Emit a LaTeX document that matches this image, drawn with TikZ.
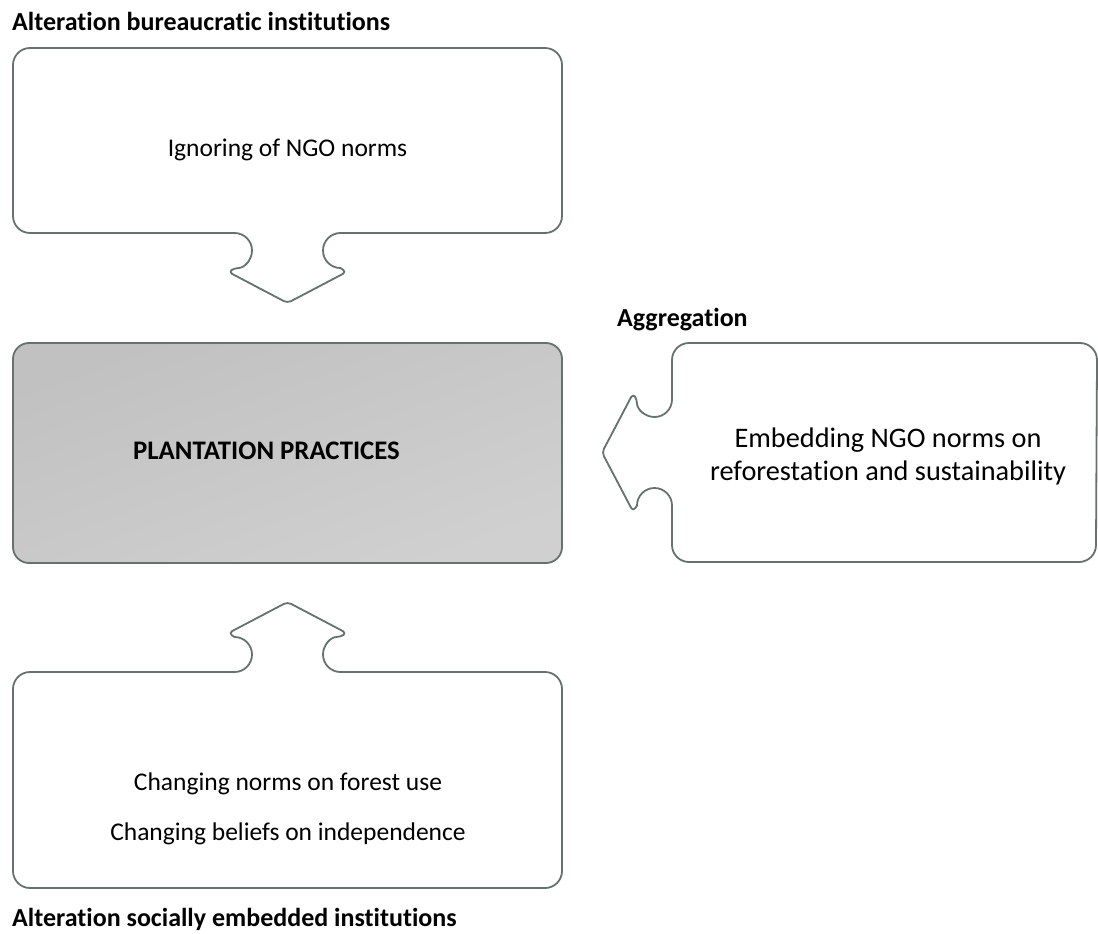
\documentclass[tikz,border=0pt]{standalone}
\usepackage{tikz}
\usepackage{fontspec}
\setmainfont{Carlito}[Ligatures=NoCommon]
\definecolor{edgec}{RGB}{102,114,108}
\definecolor{fillA}{RGB}{193,193,193}
\definecolor{fillB}{RGB}{208,208,208}
\begin{document}
\begin{tikzpicture}[x=1pt,y=-1pt,
  callout/.style={draw=edgec,line width=1.8pt,line join=round,fill=white},
  body/.style={font=\fontsize{25.5}{31}\selectfont,inner sep=0pt,align=center},
  bigbody/.style={font=\fontsize{28.3}{33}\selectfont,inner sep=0pt,align=center},
  head/.style={font=\fontsize{26}{31}\selectfont\bfseries,inner sep=0pt},
  title/.style={font=\fontsize{26.8}{32}\selectfont\bfseries,inner sep=0pt}]
\useasboundingbox (0,0) rectangle (1098,934);

% upper callout, arrow pointing down
\draw[callout] (13,65) arc[start angle=180,end angle=270,radius=17]
  -- (545,48) arc[start angle=270,end angle=360,radius=17]
  -- (562,216) arc[start angle=0,end angle=90,radius=17]
  -- (340.5,233) arc[start angle=270,end angle=90,radius=17.5]
  [rounded corners=4] -- (346.5,272) -- (287.5,303) -- (228.5,272) -- (234.5,268) [sharp corners]
  arc[start angle=90,end angle=-90,radius=17.5]
  -- (30,233) arc[start angle=90,end angle=180,radius=17] -- cycle;

% central box
\shade[top color=fillA,bottom color=fillB,shading angle=20,draw=edgec,line width=1.8pt,rounded corners=16]
  (13,343) rectangle (562,563);

% right callout, arrow pointing left
\draw[callout] (689,343) -- (1080,343) arc[start angle=270,end angle=360,radius=17]
  -- (1096,545) arc[start angle=0,end angle=90,radius=17]
  -- (689,562) arc[start angle=90,end angle=180,radius=17]
  -- (672,505.5) arc[start angle=0,end angle=-180,radius=17.5]
  [rounded corners=4] -- (633,511.5) -- (602,452.5) -- (633,393.5) -- (637,399.5) [sharp corners]
  arc[start angle=180,end angle=0,radius=17.5]
  -- (672,360) arc[start angle=180,end angle=270,radius=17] -- cycle;

% lower callout, arrow pointing up
\draw[callout] (13,689) arc[start angle=180,end angle=270,radius=17]
  -- (234.5,672) arc[start angle=90,end angle=-90,radius=17.5]
  [rounded corners=4] -- (228.5,633) -- (287.5,602) -- (346.5,633) -- (340.5,637) [sharp corners]
  arc[start angle=270,end angle=90,radius=17.5]
  -- (545,672) arc[start angle=270,end angle=360,radius=17]
  -- (562,871) arc[start angle=0,end angle=90,radius=17]
  -- (30,888) arc[start angle=90,end angle=180,radius=17] -- cycle;

% labels
\node[head,anchor=base west] (lblTop) at (12,31) {Alteration bureaucratic institutions};
\node[head,anchor=base west] (lblAgg) at (617,326) {Aggregation};
\node[head,anchor=base west] (lblBot) at (12,926) {Alteration socially embedded institutions};

% box texts
\node[body,anchor=base] (ignore) at (287.5,156) {Ignoring of NGO norms};
\node[title,anchor=base] (practice) at (266.5,459) {PLANTATION PRACTICES};
\node[bigbody,anchor=base] (embed1) at (888,447) {Embedding NGO norms on};
\node[bigbody,anchor=base] (embed2) at (888,480) {reforestation and sustainability};
\node[body,anchor=base] (change1) at (288,790) {Changing norms on forest use};
\node[body,anchor=base] (change2) at (288,840) {Changing beliefs on independence};
\end{tikzpicture}
\end{document}
